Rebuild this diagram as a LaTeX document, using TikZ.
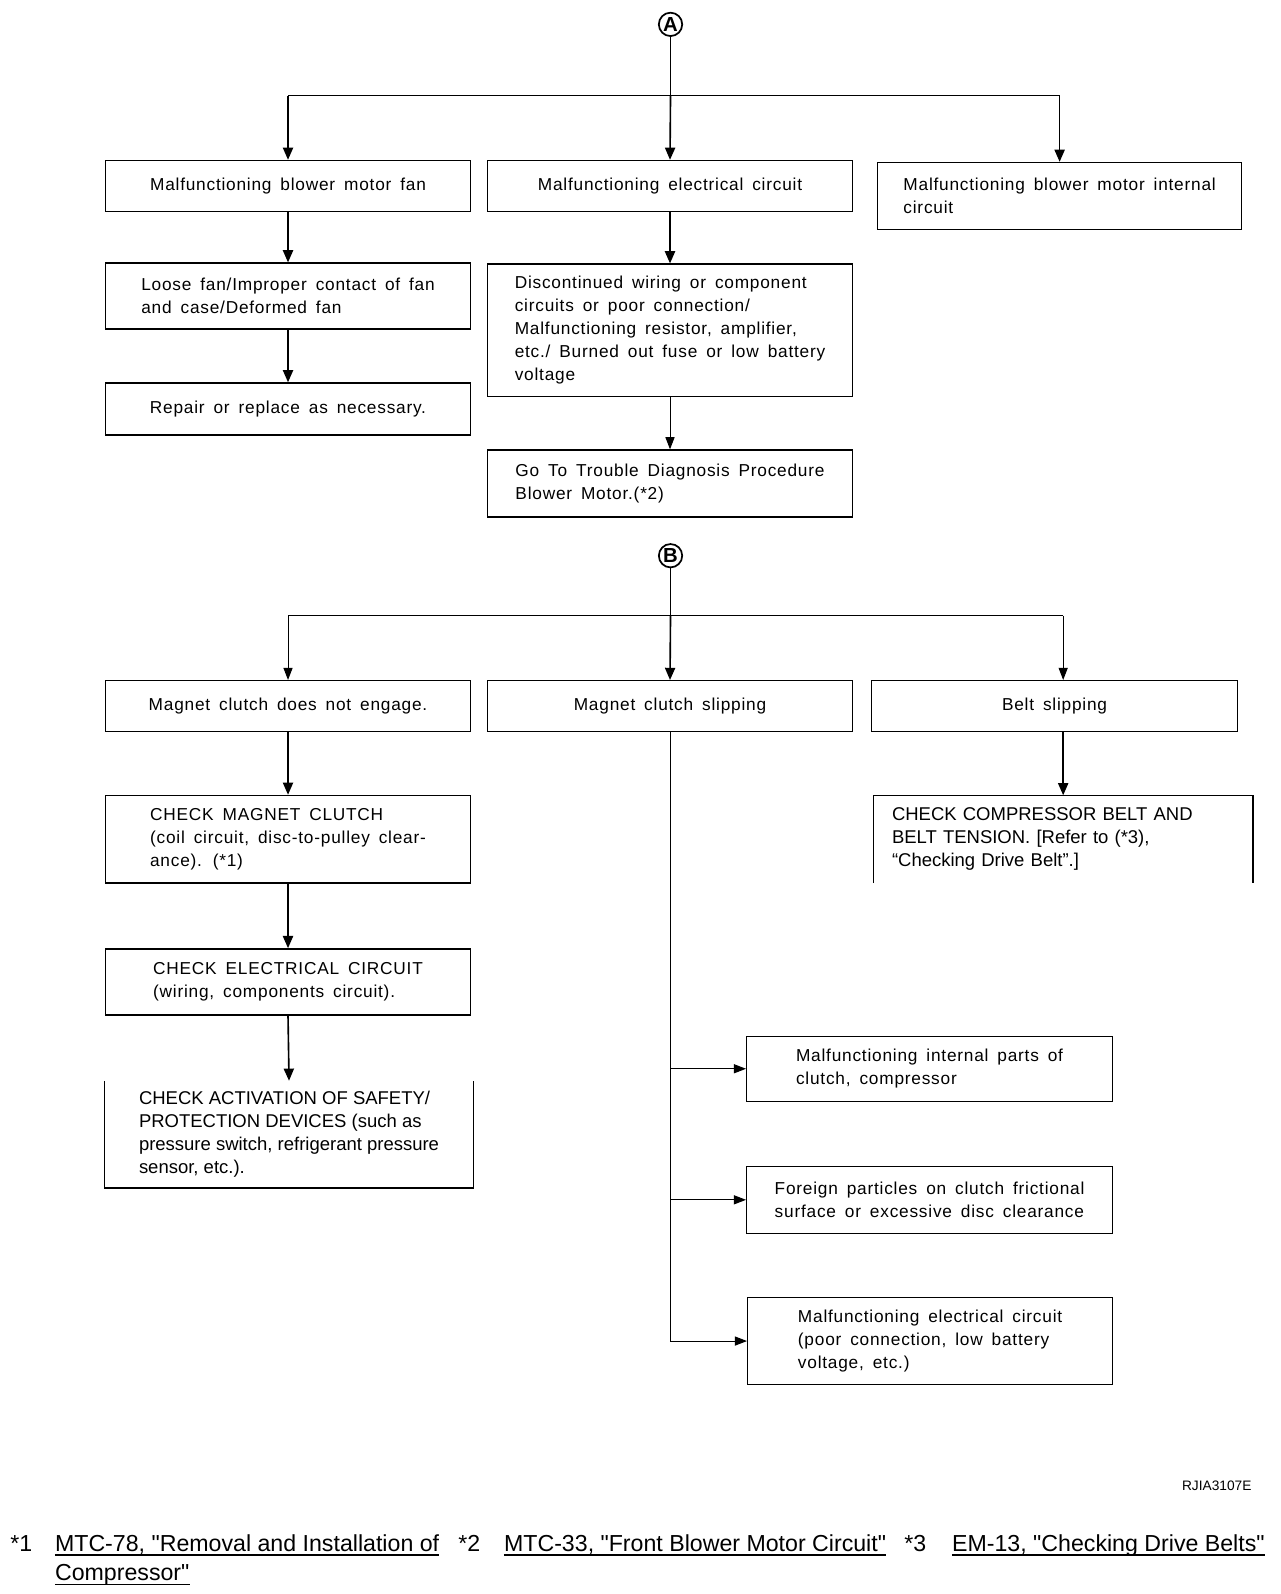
\documentclass[tikz,border=0pt]{standalone}
\usepackage{fontspec}
\setmainfont{Liberation Sans}
\newfontfamily\spaced{Liberation Sans}[LetterSpace=4.5, WordSpace=1.6]
\newfontfamily\footfont{Liberation Sans}[Ligatures=TeXOff]
\usetikzlibrary{arrows.meta}
\tikzset{
  box/.style={draw, line width=1.4pt, rectangle, inner sep=0pt, align=left,
    font=\spaced\fontsize{17}{22.7}\selectfont},
  openbox/.style={rectangle, inner sep=0pt, align=left,
    font=\fontsize{18.2}{22.7}\selectfont},
  sides/.style={line width=1.4pt},
  ln/.style={line width=1.6pt},
  thinln/.style={line width=1.0pt},
  arr/.style={line width=1.6pt, -{Triangle[width=10pt,length=12pt]}},
  thinarr/.style={line width=1.0pt, -{Triangle[width=9pt,length=12pt]}},
  mark circle/.style={circle, draw, line width=1.7pt, minimum size=23pt, inner sep=0pt,
    font=\bfseries\fontsize{20}{20}\selectfont},
  foot/.style={anchor=base west, inner sep=0pt, font=\footfont\fontsize{22.8}{28}\selectfont},
  uline/.style={line width=1.6pt},
}
\begin{document}
\begin{tikzpicture}[x=1pt,y=-1pt]
\useasboundingbox (0,0) rectangle (1260,1569);

% ---------- Part A ----------
\node[mark circle] (A) at (660,24) {A};
\coordinate (jA) at (660,94);

\node[box, minimum width=359pt, minimum height=50pt] (b1) at (283.5,183) {Malfunctioning blower motor fan};
\node[box, minimum width=359pt, minimum height=50pt] (b2) at (659.5,183) {Malfunctioning electrical circuit};
\node[box, minimum width=358pt, minimum height=66pt] (b3) at (1043,193) {Malfunctioning blower motor internal\\circuit};
\node[box, minimum width=359pt, minimum height=65pt] (b4) at (283.5,291.5) {Loose fan/Improper contact of fan\\and case/Deformed fan};
\node[box, minimum width=359pt, minimum height=51pt] (b5) at (283.5,402.5) {Repair or replace as necessary.};
\node[box, minimum width=359pt, minimum height=130pt] (b6) at (659.5,325) {Discontinued wiring or component\\circuits or poor connection/\\Malfunctioning resistor, amplifier,\\etc./ Burned out fuse or low battery\\voltage};
\node[box, minimum width=359pt, minimum height=66pt] (b7) at (659.5,476) {Go To Trouble Diagnosis Procedure\\Blower Motor.(*2)};

\draw[ln] (A.south) -- (jA);
\draw[ln] (jA -| b1.north) -- (jA -| b3.north);
\draw[arr] (jA) -- (b2.north);
\draw[arr] (jA -| b1.north) -- (b1.north);
\draw[arr] (jA -| b3.north) -- (b3.north);
\draw[arr] (b1.south) -- (b4.north);
\draw[arr] (b4.south) -- (b5.north);
\draw[arr] (b2.south) -- (b6.north);
\draw[thinarr] (b6.south) -- (b7.north);

% ---------- Part B ----------
\node[mark circle] (B) at (660,547) {B};
\coordinate (jB) at (660,606);

\node[box, minimum width=359pt, minimum height=50pt] (b8) at (283.5,695) {Magnet clutch does not engage.};
\node[box, minimum width=359pt, minimum height=50pt] (b9) at (659.5,695) {Magnet clutch slipping};
\node[box, minimum width=360pt, minimum height=50pt] (b10) at (1038,695) {Belt slipping};
\node[box, minimum width=359pt, minimum height=86pt] (b11) at (283.5,826) {CHECK MAGNET CLUTCH\\(coil circuit, disc-to-pulley clear-\\ance). (*1)};
\node[box, minimum width=359pt, minimum height=65pt] (b12) at (283.5,966.5) {CHECK ELECTRICAL CIRCUIT\\(wiring, components circuit).};
\node[openbox, minimum width=363pt, minimum height=105pt] (b13) at (284.5,1116.5) {CHECK ACTIVATION OF SAFETY/\\PROTECTION DEVICES (such as\\pressure switch, refrigerant pressure\\sensor, etc.).};
\node[openbox, text width=337pt, inner xsep=18pt, minimum height=86pt] (b14) at (1046.5,826) {CHECK COMPRESSOR BELT AND\\BELT TENSION. [Refer to (*3),\\``Checking Drive Belt''.]};
\node[box, minimum width=360pt, minimum height=64pt] (b15) at (915,1052) {Malfunctioning internal parts of\\clutch, compressor};
\node[box, minimum width=360pt, minimum height=66pt] (b16) at (915,1181) {Foreign particles on clutch frictional\\surface or excessive disc clearance};
\node[box, minimum width=359pt, minimum height=86pt] (b17) at (915.5,1320) {Malfunctioning electrical circuit\\(poor connection, low battery\\voltage, etc.)};

\draw[sides] (b13.north west) -- (b13.south west) -- (b13.south east) -- (b13.north east);
\draw[sides] (b14.south west) -- (b14.north west) -- (b14.north east) -- (b14.south east);

\draw[ln] (B.south) -- (jB);
\draw[thinln] (jB -| b8.north) -- (jB -| b14.north);
\draw[arr] (jB) -- (b9.north);
\draw[thinarr] (jB -| b8.north) -- (b8.north);
\draw[thinarr] (jB -| b14.north) -- (b10.north -| b14.north);
\draw[arr] (b8.south) -- (b11.north);
\draw[arr] (b11.south) -- (b12.north);
\draw[arr] (b12.south) -- (b13.north);
\draw[arr] (b10.south -| b14.north) -- (b14.north);
\draw[thinln] (b9.south) -- (b9.south |- b17.west);
\draw[thinarr] (b9.south |- b15.west) -- (b15.west);
\draw[thinarr] (b9.south |- b16.west) -- (b16.west);
\draw[thinarr] (b9.south |- b17.west) -- (b17.west);

% ---------- Footer ----------
\node[anchor=base east, inner sep=0pt, font=\fontsize{13.5}{14}\selectfont] (code) at (1232,1467) {RJIA3107E};

\node[foot] (n1) at (10,1527) {*1};
\node[foot] (f1) at (54,1527) {MTC-78, "Removal and Installation of};
\node[foot] (f1b) at (54,1556) {Compressor"};
\node[foot] (n2) at (451,1527) {*2};
\node[foot] (f2) at (496,1527) {MTC-33, "Front Blower Motor Circuit"};
\node[foot] (n3) at (890,1527) {*3};
\node[foot] (f3) at (937,1527) {EM-13, "Checking Drive Belts"};

\draw[uline] ([yshift=-3.5pt]f1.base west) -- ([yshift=-3.5pt]f1.base east);
\draw[uline] ([yshift=-3.5pt]f1b.base west) -- ([yshift=-3.5pt]f1b.base east);
\draw[uline] ([yshift=-3.5pt]f2.base west) -- ([yshift=-3.5pt]f2.base east);
\draw[uline] ([yshift=-3.5pt]f3.base west) -- ([yshift=-3.5pt]f3.base east);
\end{tikzpicture}
\end{document}
